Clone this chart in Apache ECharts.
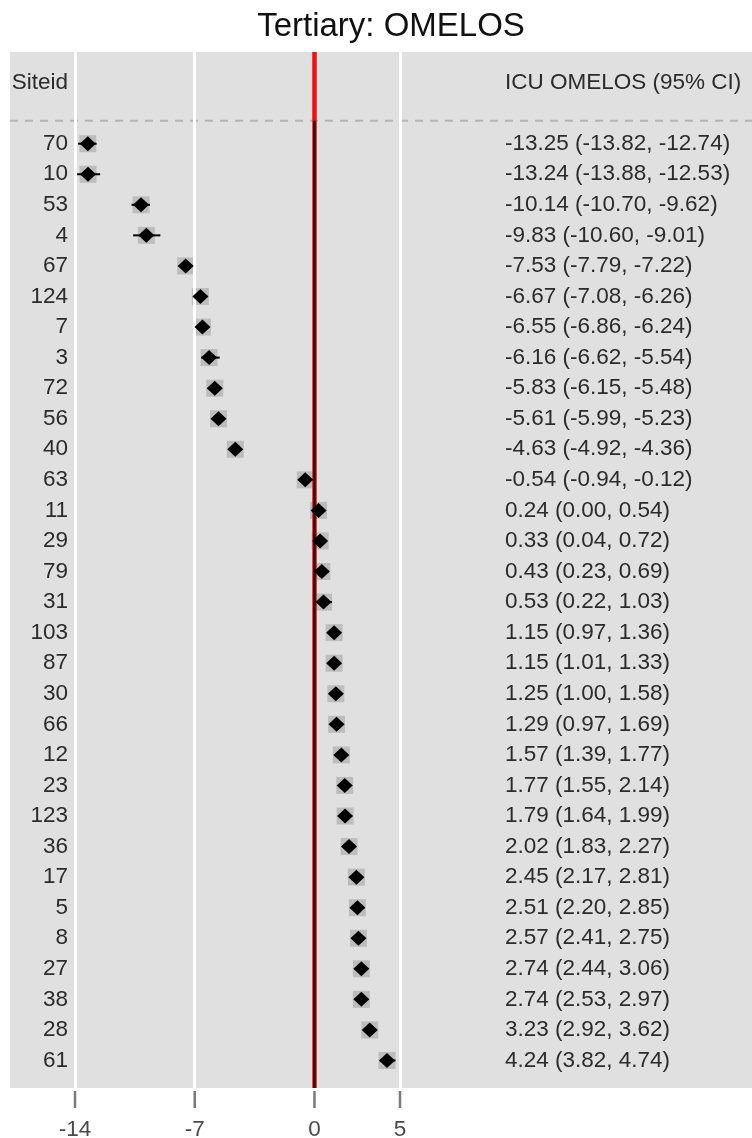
<!DOCTYPE html>
<html>
<head>
<meta charset="utf-8">
<title>Tertiary: OMELOS</title>
<script src="https://cdn.jsdelivr.net/npm/echarts@6/dist/echarts.min.js"></script>
<style>
  html, body { margin: 0; padding: 0; background: #ffffff; }
  #chart { width: 752px; height: 1138px; }
</style>
</head>
<body>
<div id="chart"></div>
<script>
// Site-level ICU OMELOS estimates with 95% confidence intervals
const siteIds = ['70', '10', '53', '4', '67', '124', '7', '3', '72', '56', '40', '63', '11', '29', '79', '31',
  '103', '87', '30', '66', '12', '23', '123', '36', '17', '5', '8', '27', '38', '28', '61'];
const estimate = [-13.25, -13.24, -10.14, -9.83, -7.53, -6.67, -6.55, -6.16, -5.83, -5.61, -4.63, -0.54,
  0.24, 0.33, 0.43, 0.53, 1.15, 1.15, 1.25, 1.29, 1.57, 1.77, 1.79, 2.02, 2.45, 2.51, 2.57, 2.74, 2.74, 3.23, 4.24];
const lower = [-13.82, -13.88, -10.70, -10.60, -7.79, -7.08, -6.86, -6.62, -6.15, -5.99, -4.92, -0.94,
  0.00, 0.04, 0.23, 0.22, 0.97, 1.01, 1.00, 0.97, 1.39, 1.55, 1.64, 1.83, 2.17, 2.20, 2.41, 2.44, 2.53, 2.92, 3.82];
const upper = [-12.74, -12.53, -9.62, -9.01, -7.22, -6.26, -6.24, -5.54, -5.48, -5.23, -4.36, -0.12,
  0.54, 0.72, 0.69, 1.03, 1.36, 1.33, 1.58, 1.69, 1.77, 2.14, 1.99, 2.27, 2.81, 2.85, 2.75, 3.06, 2.97, 3.62, 4.74];
const xTicks = [-14, -7, 0, 5];
const gridValues = [-14, -7, 5];

const titleText = 'Tertiary: OMELOS';
const leftHeader = 'Siteid';
const rightHeader = 'ICU OMELOS (95% CI)';

const FONT = "'Liberation Sans', Arial, sans-serif";
const HEADER_ROW = -2;       // header line sits two rows above the first site
const SEPARATOR_ROW = -0.75; // dashed separator between header and sites
const Y_MIN = -3, Y_MAX = 30.9;

const rows = siteIds.map((_, i) => i);
const ciText = rows.map(i =>
  estimate[i].toFixed(2) + ' (' + lower[i].toFixed(2) + ', ' + upper[i].toFixed(2) + ')');
const labelRows = [HEADER_ROW].concat(rows);

const chart = echarts.init(document.getElementById('chart'), null, { renderer: 'canvas' });

const GRID = { left: 75, right: 352, top: 52, bottom: 50 };
const panelRect = {
  type: 'rect', z: -10, silent: true,
  shape: { x: 10, y: GRID.top, width: 742, height: 1138 - GRID.top - GRID.bottom },
  style: { fill: '#e0e0e0' }
};

const option = {
  backgroundColor: '#ffffff',
  animation: false,
  title: {
    text: titleText,
    left: 386,
    top: 5,
    textAlign: 'center',
    textStyle: { fontFamily: FONT, fontSize: 33, fontWeight: 'normal', color: '#111111' }
  },
  graphic: [panelRect],
  grid: {
    left: GRID.left, right: GRID.right, top: GRID.top, bottom: GRID.bottom,
    containLabel: false, outerBoundsMode: 'none'
  },
  xAxis: {
    type: 'value',
    min: -14,
    max: 5,
    axisLine: { show: false },
    splitLine: { show: false },
    axisTick: { show: false },
    axisLabel: {
      customValues: xTicks, margin: 30,
      fontFamily: FONT, fontSize: 22.5, color: '#4a4a4a'
    }
  },
  yAxis: [
    {
      type: 'value', inverse: true, min: Y_MIN, max: Y_MAX,
      axisLine: { show: false }, axisTick: { show: false }, splitLine: { show: false },
      axisLabel: {
        customValues: labelRows, margin: 7,
        fontFamily: FONT, fontSize: 22.5, color: '#2b2b2b',
        formatter: v => (v === HEADER_ROW ? leftHeader : siteIds[v])
      }
    },
    {
      type: 'value', inverse: true, min: Y_MIN, max: Y_MAX, position: 'right',
      axisLine: { show: false }, axisTick: { show: false }, splitLine: { show: false },
      axisLabel: {
        customValues: labelRows, margin: 105,
        fontFamily: FONT, fontSize: 22.5, color: '#2b2b2b',
        formatter: v => (v === HEADER_ROW ? rightHeader : ciText[v])
      }
    }
  ],
  series: [
    {
      // vertical white reference lines and the line of no effect
      type: 'line', data: [], silent: true, z: 1,
      markLine: {
        silent: true, symbol: 'none', label: { show: false }, animation: false,
        data: gridValues.map(v => ({ xAxis: v, lineStyle: { color: '#ffffff', width: 3, type: 'solid' } }))
          .concat([
            [{ coord: [0, Y_MIN], lineStyle: { color: '#ee1111', width: 4.5, type: 'solid' } },
             { coord: [0, Y_MAX] }],
            [{ coord: [0, SEPARATOR_ROW], lineStyle: { color: '#2a1010', width: 2.5, type: 'solid' } },
             { coord: [0, Y_MAX] }]
          ])
      }
    },
    {
      // tick marks under the panel, placed by the x scale
      type: 'custom', silent: true, z: 2, clip: false,
      data: xTicks.map(v => [v]),
      renderItem: (params, api) => {
        const p = api.coord([api.value(0), Y_MAX]);
        return {
          type: 'line',
          shape: { x1: p[0], y1: p[1] + 3, x2: p[0], y2: p[1] + 20 },
          style: { stroke: '#7a7a7a', lineWidth: 2.5 }
        };
      }
    },
    {
      // gray box behind each point estimate
      type: 'scatter', silent: true, z: 3,
      symbol: 'rect', symbolSize: 17,
      itemStyle: { color: '#bdbdbd', opacity: 1 },
      data: rows.map(i => [estimate[i], i])
    },
    {
      // 95% confidence intervals
      type: 'custom', silent: true, z: 4,
      data: rows.map(i => [lower[i], upper[i], i]),
      renderItem: (params, api) => {
        const a = api.coord([api.value(0), api.value(2)]);
        const b = api.coord([api.value(1), api.value(2)]);
        return {
          type: 'line',
          shape: { x1: a[0], y1: a[1], x2: b[0], y2: b[1] },
          style: { stroke: '#000000', lineWidth: 2 }
        };
      }
    },
    {
      // point estimates
      type: 'scatter', silent: true, z: 5,
      symbol: 'diamond', symbolSize: [16, 15],
      itemStyle: { color: '#000000', opacity: 1 },
      data: rows.map(i => [estimate[i], i])
    }
  ]
};

chart.setOption(option);

// dashed separator spanning the full panel width below the column headers
const sepY = chart.convertToPixel({ yAxisIndex: 0 }, SEPARATOR_ROW);
chart.setOption({
  graphic: [
    panelRect,
    {
      type: 'line', z: 2, silent: true,
      shape: { x1: 10, y1: sepY, x2: 752, y2: sepY },
      style: { stroke: '#b4b4b4', lineWidth: 2, lineDash: [8, 7] }
    }
  ]
});
</script>
</body>
</html>
